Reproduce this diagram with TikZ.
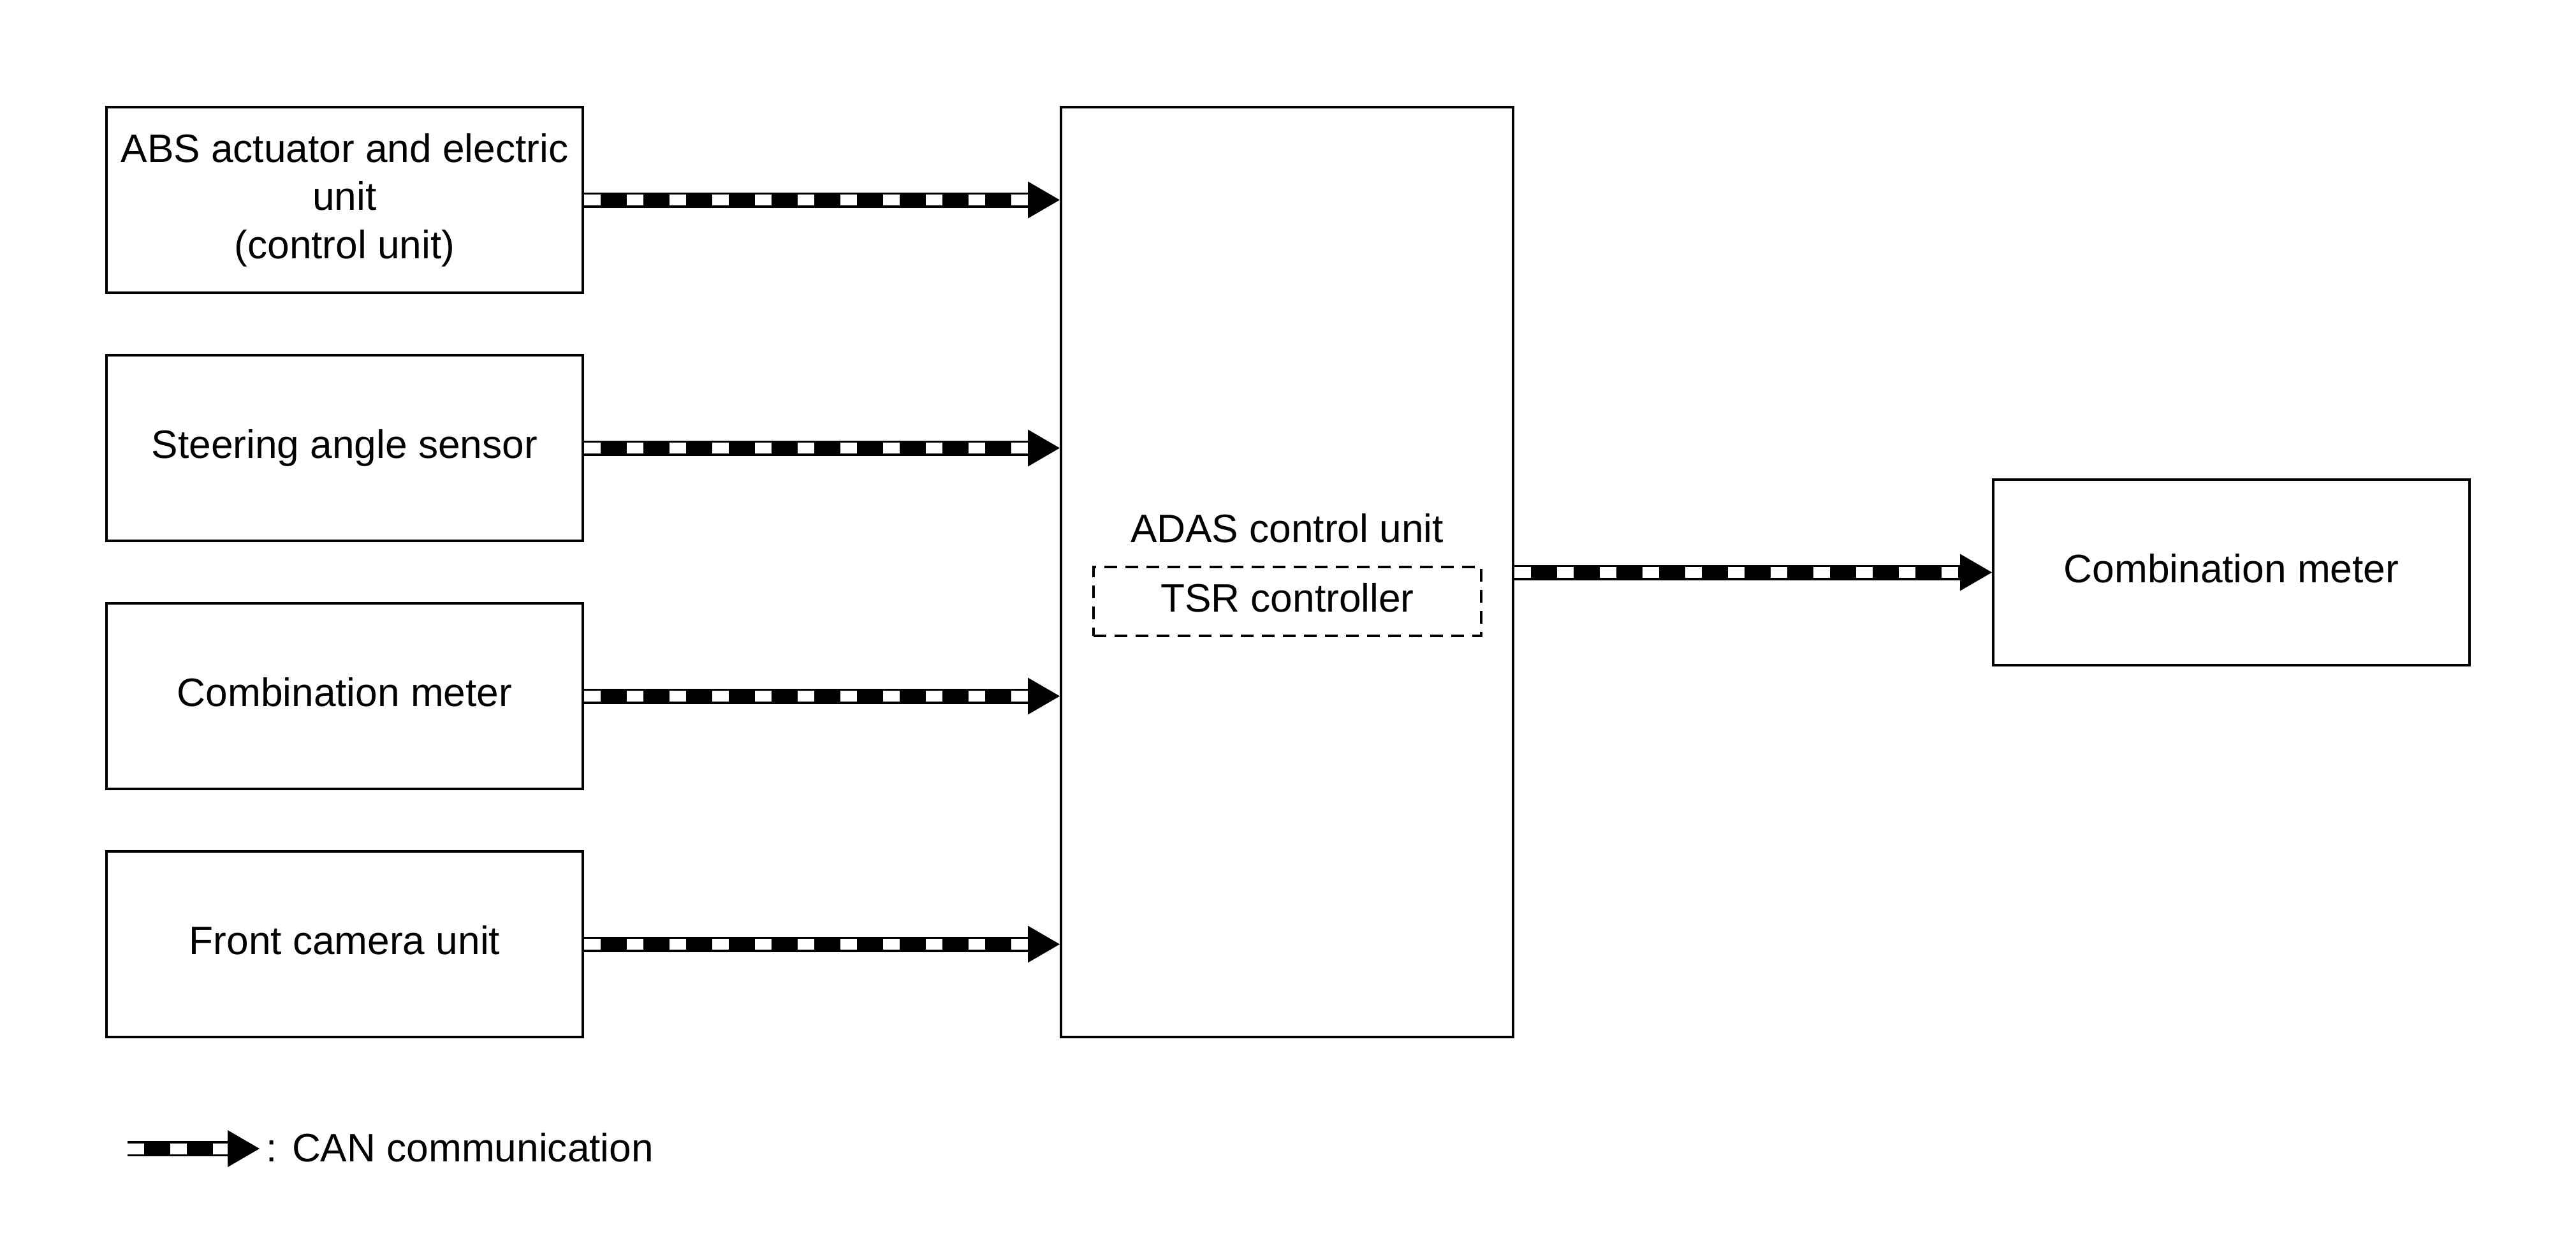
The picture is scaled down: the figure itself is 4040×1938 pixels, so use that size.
\documentclass[tikz,border=0pt]{standalone}
\usepackage{fontspec}
\setmainfont{Liberation Sans}
\usetikzlibrary{calc}
\newcommand{\lbl}{\fontsize{17.7pt}{21.5pt}\selectfont}
\tikzset{
  box/.style={draw=black, line width=0.4mm, minimum width=74.7mm, minimum height=29.1mm, align=center, inner sep=0pt, font=\lbl},
  oneline/.style={text height=12.9pt, text depth=3.8pt},
  txt/.style={inner sep=0pt, font=\lbl},
  canbase/.style={draw=black, line width=2.4mm},
  candash/.style={draw=white, line width=1.7mm, dash pattern=on 2.6mm off 4.1mm},
  headfill/.style={fill=black},
}
\newcommand{\canarrow}[2]{%
  \draw[canbase] (#1) -- ($(#2)+(-4.6mm,0)$);
  \draw[candash] (#1) -- ($(#2)+(-4.9mm,0)$);
  \fill[headfill] (#2) -- ++(-5mm,2.9mm) -- ++(0,-5.8mm) -- cycle;
}
\begin{document}
\begin{tikzpicture}[x=0.1mm,y=-0.1mm]
\useasboundingbox[fill=white] (0,0) rectangle (4040,1938);
\node[box] (b1) at (540.5,313.5) {ABS actuator and electric\\unit\\(control unit)};
\node[box, oneline] (b2) at (540.5,702.5) {Steering angle sensor};
\node[box, oneline] (b3) at (540.5,1091.5) {Combination meter};
\node[box, oneline] (b4) at (540.5,1480.5) {Front camera unit};
\node[box, minimum width=70.9mm, minimum height=145.8mm] (adas) at (2018.5,897) {};
\node[txt] (adaslbl) at (2018.5,828) {ADAS control unit};
\node[box, oneline, dash pattern=on 2mm off 1.3mm, minimum width=60.8mm, minimum height=10.8mm] (tsr) at (2019,943) {TSR controller};
\node[box, oneline] (cm) at (3499.5,897.5) {Combination meter};
\canarrow{b1.east}{adas.west |- b1.east}
\canarrow{b2.east}{adas.west |- b2.east}
\canarrow{b3.east}{adas.west |- b3.east}
\canarrow{b4.east}{adas.west |- b4.east}
\canarrow{adas.east |- cm.west}{cm.west}
\coordinate (legA) at (200,1801);
\coordinate (legB) at (407,1801);
\canarrow{legA}{legB}
\node[txt, anchor=west] (legtxt) at (417,1799) {: CAN communication};
\end{tikzpicture}
\end{document}
